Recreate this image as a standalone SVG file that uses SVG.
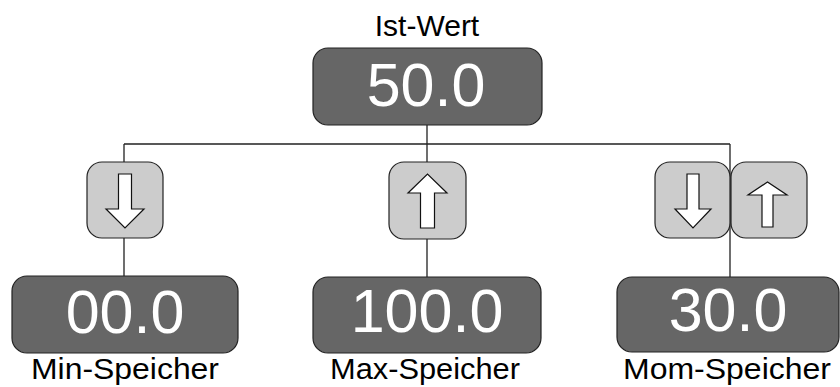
<svg xmlns="http://www.w3.org/2000/svg" width="840" height="387" viewBox="0 0 840 387">
<style>
.val{fill:#666;stroke:#222;stroke-width:1.2}
.btn{fill:#ccc;stroke:#222;stroke-width:1.2}
.arr{fill:#fff;stroke:#111;stroke-width:1.2;stroke-linejoin:miter}
.num{font-family:"Liberation Sans",Arial,sans-serif;font-size:61px;fill:#fff;text-anchor:middle}
.lbl{font-family:"Liberation Sans",Arial,sans-serif;font-size:30px;fill:#000;text-anchor:middle}
.ln{stroke:#222;stroke-width:1.3;fill:none}
</style>
<rect width="840" height="387" fill="#fff"/>
<g id="connectors">
<path class="ln" d="M427 125V144M124 144H730M124 144V276M427 144V277M730 144V277"/>
</g>
<g id="ist">
<text class="lbl" x="427" y="36">Ist-Wert</text>
<rect class="val" x="313" y="48" width="229" height="77" rx="15"/>
<text class="num" x="426" y="106">50.0</text>
</g>
<g id="btn-min">
<rect class="btn" x="87" y="162" width="76" height="76" rx="15"/>
<path class="arr" d="M118.5 174H131.5V209H144L125 228L106 209H118.5Z"/>
</g>
<g id="btn-max">
<rect class="btn" x="389" y="162" width="77" height="77" rx="15"/>
<path class="arr" d="M420.5 228V193H408L427.5 174L447 193H434.5V228Z"/>
</g>
<g id="btn-mom-down">
<rect class="btn" x="655" y="162" width="75" height="76" rx="15"/>
<path class="arr" d="M687 174H699V209H711L693 228L675 209H687Z"/>
</g>
<g id="btn-mom-up">
<rect class="btn" x="731" y="162" width="76" height="76" rx="15"/>
<path class="arr" d="M762 227V195H748L767.5 182L787 195H773V227Z"/>
</g>
<g id="min">
<rect class="val" x="12" y="276" width="226" height="77" rx="15"/>
<text class="num" x="125" y="333">00.0</text>
<text class="lbl" x="125" y="379" textLength="188" lengthAdjust="spacingAndGlyphs">Min-Speicher</text>
</g>
<g id="max">
<rect class="val" x="313" y="277" width="228" height="76" rx="15"/>
<text class="num" x="427" y="332">100.0</text>
<text class="lbl" x="425" y="379" textLength="190" lengthAdjust="spacingAndGlyphs">Max-Speicher</text>
</g>
<g id="mom">
<rect class="val" x="617" y="277" width="222" height="75" rx="15"/>
<text class="num" x="728" y="331">30.0</text>
<text class="lbl" x="727" y="379" textLength="208" lengthAdjust="spacingAndGlyphs">Mom-Speicher</text>
</g>
</svg>
